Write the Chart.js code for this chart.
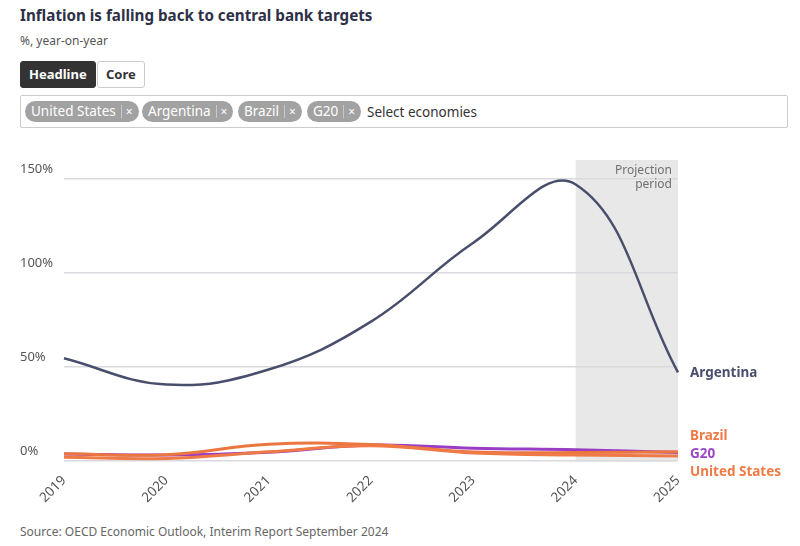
<!DOCTYPE html>
<html><head><meta charset="utf-8">
<script src="https://cdn.jsdelivr.net/npm/chart.js@4/dist/chart.umd.min.js"></script>
<style>
body{margin:0;background:#fff;font-family:"Noto Sans",sans-serif;width:800px;height:546px;position:relative;overflow:hidden}
.t{position:absolute;left:20px;top:5px;font-size:15.2px;font-weight:700;color:#2d3047}
.s{position:absolute;left:20px;top:32px;font-size:12px;color:#555}
.btn{position:absolute;top:61px;height:27px;box-sizing:border-box;font-size:13px;font-weight:700;line-height:25px;padding:0 8px;border-radius:3px}
.b1{left:20px;background:#333;color:#fff;border:1px solid #333}
.b2{left:97px;background:#fff;color:#333;border:1px solid #ccc}
.sel{position:absolute;left:20px;top:95px;width:768px;height:33px;box-sizing:border-box;border:1px solid #ccc;border-radius:2px}
.chip{position:absolute;top:5px;height:21px;line-height:21px;background:#a2a2a2;color:#fff;font-size:13.5px;border-radius:11px;padding:0 0 0 6px;white-space:nowrap}
.chip span{display:inline-block;border-left:1px solid #c8c8c8;margin-left:5px;padding:0 6px 0 4px;line-height:13px;font-size:12px}
.ph{position:absolute;left:346px;top:6px;font-size:13.5px;color:#333;line-height:21px}
.src{position:absolute;left:20px;top:523px;font-size:12px;color:#666}
#wrap{position:absolute;left:0;top:140px;width:800px;height:370px}
</style></head><body>
<div class="t">Inflation is falling back to central bank targets</div>
<div class="s">%, year-on-year</div>
<div class="btn b1">Headline</div>
<div class="btn b2">Core</div>
<div class="sel">
<div class="chip" style="left:4px">United States<span>×</span></div>
<div class="chip" style="left:121px">Argentina<span>×</span></div>
<div class="chip" style="left:217px">Brazil<span>×</span></div>
<div class="chip" style="left:286px">G20<span>×</span></div>
<div class="ph">Select economies</div>
</div>
<div id="wrap"><canvas id="c"></canvas></div>
<div class="src">Source: OECD Economic Outlook, Interim Report September 2024</div>
<script>
const years = ['2019','2020','2021','2022','2023','2024','2025'];
const argentina = [54.5, 40.5, 48.5, 74, 116, 147, 47];
const brazil = [3.7, 3.2, 8.8, 8.6, 4.6, 4.4, 4.7];
const g20 = [3.6, 3.0, 4.5, 8.3, 6.6, 5.8, 4.4];
const unitedStates = [1.8, 1.2, 4.7, 8.0, 4.1, 3.0, 2.5];
const yTicks = [0, 50, 100, 150];
const projectionStart = '2024';
const projectionEnd = '2025';

const shade = {
  id:'shade',
  beforeDraw(chart){
    const {ctx, chartArea:a, scales:{x}} = chart;
    const x0 = x.getPixelForValue(years.indexOf(projectionStart));
    const x1 = x.getPixelForValue(years.indexOf(projectionEnd));
    ctx.save();
    ctx.fillStyle = '#e8e8e8';
    ctx.fillRect(x0, a.top, x1 - x0, a.bottom - a.top + 1);
    ctx.restore();
  },
  afterDatasetsDraw(chart){
    const {ctx, chartArea:a, scales:{x}} = chart;
    const x1 = x.getPixelForValue(years.indexOf(projectionEnd));
    ctx.save();
    ctx.fillStyle = '#707070';
    ctx.font = '12px "Noto Sans"';
    ctx.textAlign = 'right';
    ctx.textBaseline = 'middle';
    ctx.fillText('Projection', x1 - 6, a.top + 11);
    ctx.fillText('period', x1 - 6, a.top + 25);
    const items = chart.data.datasets.map((d, i) => {
      const meta = chart.getDatasetMeta(i);
      const p = meta.data[meta.data.length - 1];
      return {text: d.label, color: d.labelColor, y: p.y};
    }).sort((a, b) => a.y - b.y);
    const gap = 18;
    let groups = items.map(it => ({items:[it], y: it.y}));
    let changed = true;
    while (changed) {
      changed = false;
      for (let i = 0; i < groups.length - 1; i++) {
        const g1 = groups[i], g2 = groups[i+1];
        const bottom1 = g1.y + (g1.items.length - 1) * gap / 2;
        const top2 = g2.y - (g2.items.length - 1) * gap / 2;
        if (top2 - bottom1 < gap) {
          const all = g1.items.concat(g2.items);
          const mean = all.reduce((s, it) => s + it.y, 0) / all.length;
          groups.splice(i, 2, {items: all, y: mean});
          changed = true; break;
        }
      }
    }
    ctx.font = 'bold 13.5px "Noto Sans"';
    ctx.textAlign = 'left';
    groups.forEach(g => {
      g.items.forEach((it, k) => {
        const yy = g.y + (k - (g.items.length - 1) / 2) * gap + 1;
        ctx.fillStyle = it.color;
        ctx.fillText(it.text, a.right + 12, yy);
      });
    });
    ctx.restore();
  }
};

const mk = (label, data, color, labelColor, w) => ({
  label, data, borderColor: color, labelColor, borderWidth: w,
  pointRadius: 0, tension: 0.4, fill: false
});

new Chart(document.getElementById('c'), {
  type: 'line',
  data: {
    labels: years,
    datasets: [
      mk('United States', unitedStates, '#ef7a45', '#ef7a45', 3),
      mk('Brazil', brazil, '#ec7640', '#ef7a45', 3),
      mk('G20', g20, '#9a3dc4', '#9a47c6', 3),
      mk('Argentina', argentina, '#494e6d', '#4a4f6e', 2.5)
    ]
  },
  options: {
    responsive: true, maintainAspectRatio: false, animation: false,
    layout: {padding: {left: 20, right: 122, top: 20, bottom: 0}},
    plugins: {legend: {display: false}, tooltip: {enabled: false}},
    scales: {
      x: {
        grid: {display: false}, border: {display: false},
        ticks: {color: '#555', font: {size: 13.5, family: 'Noto Sans'}, minRotation: 45, maxRotation: 45, padding: 4}
      },
      y: {
        min: 0, max: 160,
        afterBuildTicks(s){ s.ticks = yTicks.map(v => ({value: v})); },
        afterFit(s){ s.width = 44; },
        grid: {color: '#dadade', lineWidth: 1.5, drawTicks: false},
        border: {display: false},
        ticks: {color: '#555', font: {size: 13, family: 'Noto Sans'}, crossAlign: 'far', padding: 0, labelOffset: -9,
          callback: v => v + '%'}
      }
    }
  },
  plugins: [shade]
});
</script>
</body></html>
